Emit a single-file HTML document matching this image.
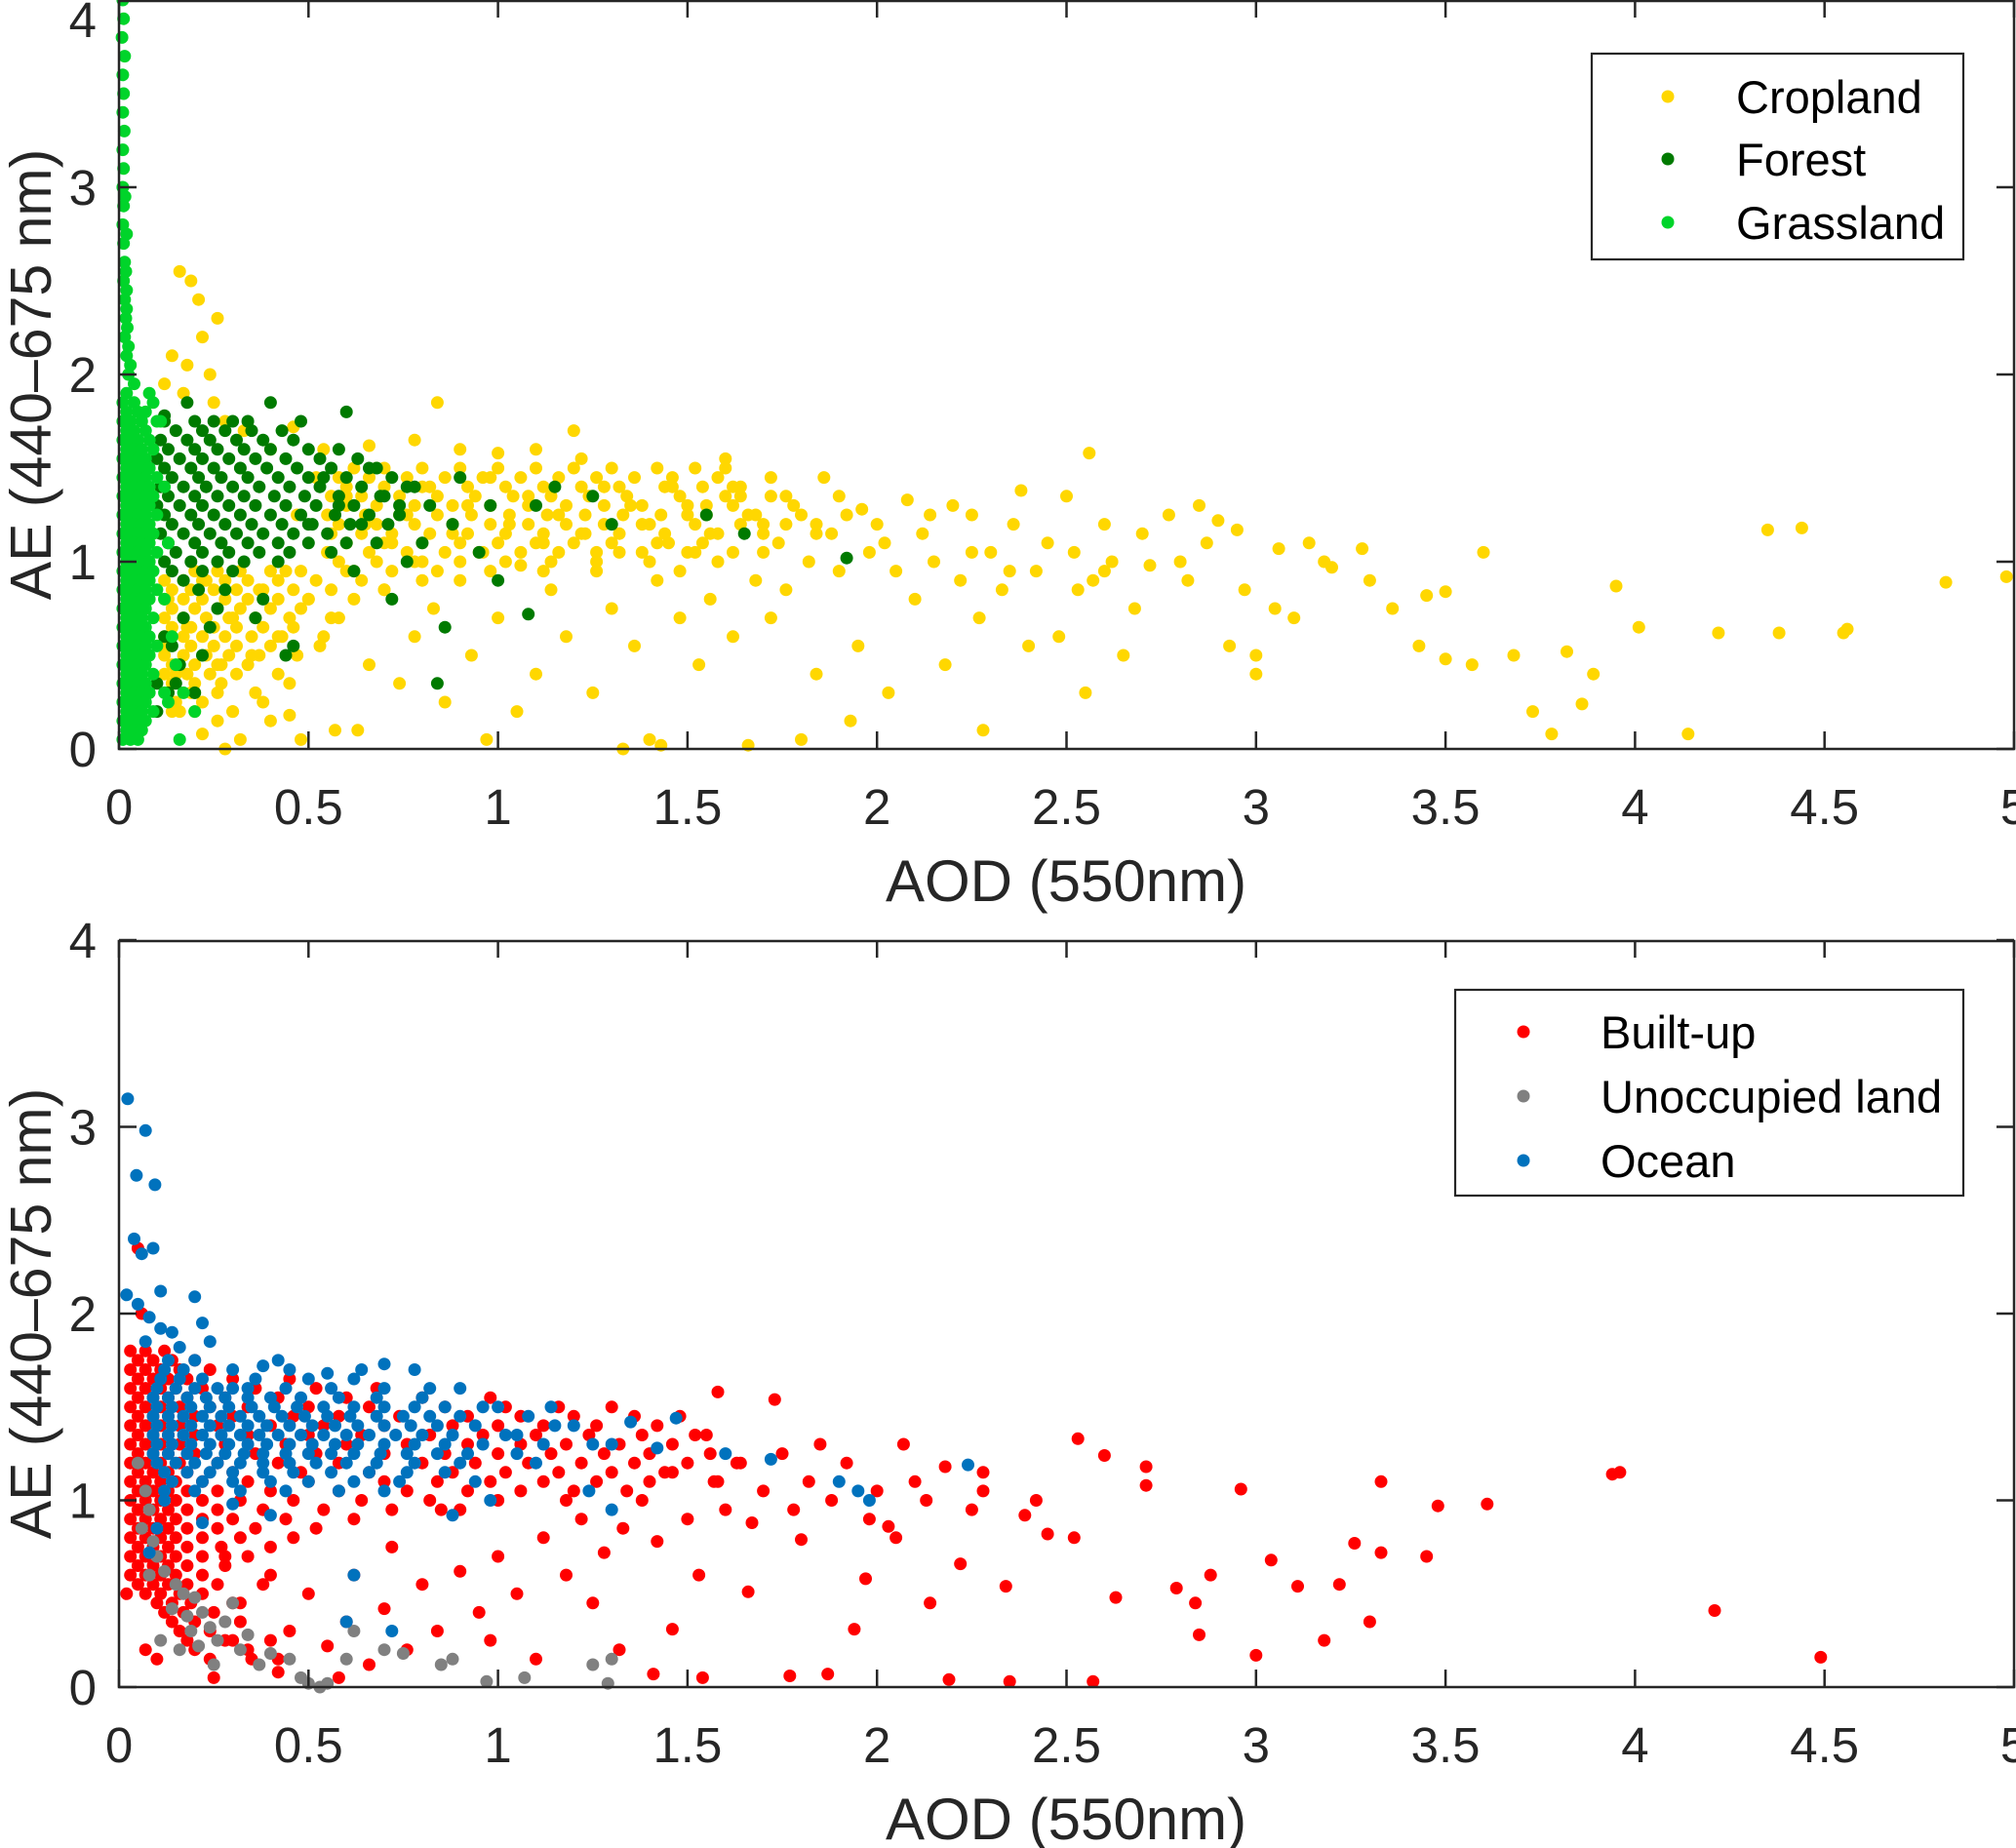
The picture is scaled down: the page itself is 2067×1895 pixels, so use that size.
<!DOCTYPE html>
<html><head><meta charset="utf-8"><style>
html,body{margin:0;padding:0;background:#fff;}
svg{display:block;font-family:"Liberation Sans",Arial,sans-serif;}
</style></head><body>
<svg id="chart" width="2067" height="1895" viewBox="0 0 2067 1895" xmlns="http://www.w3.org/2000/svg"></svg>
<script>
// ===== DATA =====
const xTicks = [0,0.5,1,1.5,2,2.5,3,3.5,4,4.5,5];
const xTickLabels = ["0","0.5","1","1.5","2","2.5","3","3.5","4","4.5","5"];
const yTicks = [0,1,2,3,4];
const yTickLabels = ["0","1","2","3","4"];
const topLegend = ["Cropland","Forest","Grassland"];
const bottomLegend = ["Built-up","Unoccupied land","Ocean"];

// dense rows: [y, x1, x2, ...]
const cropRows = [
[1.5,0.62,0.7,0.8,0.9,1.0,1.1,1.2,1.3,1.42,1.52],
[1.45,0.58,0.66,0.76,0.86,0.96,1.06,1.16,1.26,1.36,1.46,1.58],
[1.4,0.6,0.7,0.8,0.92,1.02,1.12,1.22,1.32,1.44,1.54,1.64],
[1.35,0.56,0.64,0.74,0.84,0.94,1.04,1.14,1.24,1.34,1.48,1.6,1.72],
[1.3,0.6,0.68,0.78,0.88,0.98,1.08,1.18,1.28,1.38,1.5,1.62],
[1.25,0.55,0.65,0.74,0.84,0.93,1.03,1.13,1.23,1.33,1.43,1.55,1.68,1.8],
[1.2,0.58,0.68,0.78,0.88,0.98,1.08,1.18,1.28,1.4,1.52,1.64,1.76],
[1.15,0.56,0.64,0.72,0.82,0.92,1.02,1.12,1.22,1.32,1.44,1.56,1.7,1.84],
[1.1,0.6,0.7,0.8,0.9,1.0,1.1,1.2,1.3,1.42,1.54],
[1.05,0.55,0.66,0.76,0.86,0.96,1.06,1.16,1.26,1.38,1.5,1.62],
[1.0,0.58,0.68,0.78,0.9,1.02,1.14,1.26,1.4],
[0.95,0.2,0.26,0.32,0.4,0.48,0.6,0.72,0.84,0.98,1.12],
[0.9,0.12,0.17,0.22,0.28,0.34,0.42,0.52,0.64,0.8],
[0.85,0.14,0.19,0.25,0.31,0.38,0.46,0.56,0.7],
[0.8,0.12,0.17,0.22,0.28,0.34,0.42,0.5,0.62],
[0.75,0.14,0.2,0.26,0.32,0.4,0.48],
[0.7,0.12,0.17,0.23,0.29,0.36,0.45,0.56],
[0.65,0.14,0.19,0.25,0.31,0.38,0.46],
[0.6,0.12,0.17,0.22,0.28,0.35,0.43,0.54],
[0.55,0.13,0.19,0.25,0.31,0.4],
[0.5,0.12,0.17,0.23,0.29,0.37,0.47],
[0.45,0.14,0.2,0.26,0.34],
[0.4,0.12,0.18,0.24,0.31,0.42],
[0.35,0.14,0.2,0.27],
[0.3,0.13,0.19,0.26,0.36],
[0.25,0.15,0.22],
[0.2,0.14,0.2,0.3]
];
const cropPoints = [
[4.35,1.17],[4.44,1.18],[4.82,0.89],[4.98,0.92],[4.55,0.62],[4.56,0.64],[4.38,0.62],[4.22,0.62],[4.01,0.65],[3.95,0.87],
[3.73,0.2],[3.78,0.08],[3.89,0.4],[3.82,0.52],[4.14,0.08],[3.86,0.24],[3.68,0.5],[3.6,1.05],[3.57,0.45],[3.5,0.84],
[3.5,0.48],[3.45,0.82],[3.43,0.55],[3.36,0.75],[3.28,1.07],[3.3,0.9],[3.2,0.97],[3.18,1.0],[3.14,1.1],[3.1,0.7],
[3.06,1.07],[3.05,0.75],[3.0,0.5],[3.0,0.4],[2.97,0.85],[2.95,1.17],[2.93,0.55],[2.9,1.22],[2.87,1.1],[2.85,1.3],
[2.82,0.9],[2.8,1.0],[2.77,1.25],[2.72,0.98],[2.7,1.15],[2.68,0.75],[2.65,0.5],[2.62,1.0],[2.6,1.2],[2.57,0.9],
[2.56,1.58],[2.55,0.3],[2.53,0.85],[2.5,1.35],[2.48,0.6],[2.45,1.1],[2.42,0.95],[2.4,0.55],[2.38,1.38],[2.36,1.2],
[2.33,0.85],[2.3,1.05],[2.28,0.1],[2.27,0.7],[2.25,1.25],[2.22,0.9],[2.2,1.3],[2.18,0.45],[2.15,1.0],[2.12,1.15],
[2.1,0.8],[2.08,1.33],[2.05,0.95],[2.03,0.3],[2.0,1.2],[1.98,1.05],[1.95,0.55],[1.93,0.15],[1.92,1.25],[1.9,0.95],
[1.88,1.15],[1.86,1.45],[1.84,0.4],[1.82,1.0],[1.8,0.05],[1.78,1.3],[1.76,0.85],[1.74,1.1],[1.72,0.7],[1.7,1.2],
[1.68,0.9],[1.66,0.02],[1.64,1.35],[1.62,0.6],[1.6,1.5],[1.58,1.15],[1.56,0.8],[1.55,1.3],[1.53,0.45],[1.52,1.05],
[1.5,1.25],[1.48,0.7],[1.46,1.4],[1.45,1.1],[1.43,0.02],[1.42,0.9],[1.4,0.05],[1.38,1.2],[1.36,0.55],[1.35,1.3],
[1.33,0.0],[1.32,1.05],[1.3,0.75],[1.28,1.4],[1.26,0.95],[1.25,0.3],[1.23,1.15],[1.2,1.7],[1.18,0.6],[1.16,1.25],
[1.14,0.85],[1.12,1.1],[1.1,0.4],[1.08,1.35],[1.06,0.98],[1.05,0.2],[1.03,1.2],[1.0,0.7],[0.98,1.45],[0.97,0.05],
[0.95,1.05],[0.93,0.5],[0.92,1.3],[0.9,0.9],[0.88,1.15],[0.86,0.25],[0.84,1.85],[0.83,0.75],[0.82,1.4],[0.8,1.0],
[0.78,0.6],[0.76,1.25],[0.74,0.35],[0.72,1.1],[0.7,0.85],[0.68,1.5],[0.66,0.45],[0.65,1.2],[0.63,0.1],[0.62,0.95],
[0.6,1.35],[0.58,0.7],[0.57,0.1],[0.55,1.05],[0.53,0.55],[0.52,1.45],[0.5,0.8],[0.48,0.05],[0.47,1.25],[0.45,0.35],
[0.44,0.95],[0.42,0.6],[0.4,1.6],[0.38,0.25],[0.37,0.85],[0.35,0.5],[0.33,1.7],[0.32,0.05],[0.3,0.7],[0.28,0.0],
[0.27,0.45],[0.26,2.3],[0.24,2.0],[0.23,0.9],[0.22,2.2],[0.2,0.3],[0.19,2.5],[0.18,0.65],[0.17,1.9],[0.16,2.55],
[0.15,0.4],[0.14,2.1],[0.13,0.8],[0.12,1.95],[0.21,2.4],[0.25,1.85],[0.18,2.05],[0.28,1.75],[0.11,0.55],[0.16,0.2],
[0.26,0.15],[0.3,0.2],[0.22,0.08],[0.4,0.15],[0.45,0.18],[1.9,1.35],[2.02,1.1],[1.96,1.28],[1.84,1.2],[1.76,1.35],
[1.66,1.25],[1.62,1.4],[1.7,1.05],[1.58,1.0],[1.48,0.95],[2.14,1.25],[2.25,1.05],[2.35,0.95],[2.52,1.05],[2.6,0.95],
[1.6,1.55],[1.72,1.45],[1.22,1.55],[1.1,1.6],[1.0,1.58],[0.9,1.6],[0.78,1.65],[0.66,1.62],[0.54,1.6],[0.46,1.72]
];
const forestRows = [
[1.75,0.12,0.2,0.25,0.3],
[1.7,0.15,0.22,0.28,0.35,0.43],
[1.65,0.11,0.18,0.24,0.31,0.38,0.46],
[1.6,0.13,0.2,0.26,0.33,0.4,0.5,0.58],
[1.55,0.1,0.16,0.22,0.29,0.36,0.44,0.53,0.63],
[1.5,0.12,0.19,0.25,0.32,0.39,0.47,0.56,0.68],
[1.45,0.14,0.21,0.27,0.34,0.42,0.5,0.6,0.72],
[1.4,0.11,0.17,0.23,0.3,0.37,0.45,0.53,0.64,0.76],
[1.35,0.13,0.2,0.26,0.33,0.41,0.49,0.58,0.69],
[1.3,0.1,0.16,0.22,0.29,0.36,0.44,0.52,0.62,0.74],
[1.25,0.12,0.19,0.25,0.32,0.4,0.48,0.57,0.66],
[1.2,0.14,0.21,0.28,0.35,0.43,0.51,0.61,0.71],
[1.15,0.11,0.17,0.24,0.31,0.38,0.46,0.55],
[1.1,0.13,0.2,0.27,0.34,0.42,0.5,0.6],
[1.05,0.15,0.22,0.29,0.37,0.45],
[1.0,0.12,0.19,0.26,0.33],
[0.95,0.14,0.22],
[0.9,0.17]
];
const forestPoints = [
[1.92,1.02],[1.65,1.15],[1.55,1.25],[1.3,1.2],[1.25,1.35],[1.15,1.4],[1.1,1.3],[1.08,0.72],[1.0,0.9],[0.98,1.3],
[0.95,1.05],[0.9,1.45],[0.88,1.2],[0.86,0.65],[0.84,0.35],[0.82,1.3],[0.8,1.1],[0.78,1.4],[0.76,1.0],[0.74,1.25],
[0.72,0.8],[0.7,1.35],[0.68,1.1],[0.66,1.5],[0.64,1.2],[0.6,1.8],[0.62,0.95],[0.58,1.3],[0.56,1.05],[0.54,1.45],
[0.5,1.2],[0.48,1.75],[0.46,0.55],[0.44,0.5],[0.42,1.0],[0.4,1.85],[0.38,0.8],[0.36,0.7],[0.34,1.75],[0.28,0.85],
[0.26,0.75],[0.22,0.5],[0.2,0.3],[0.18,1.85],[0.15,0.35],[0.14,0.55],[0.12,1.78],[0.1,0.2],[0.13,0.3],[0.17,0.7],
[0.21,0.85],[0.3,0.95],[0.24,0.65],[0.16,0.45],[0.12,0.6],[0.1,0.35]
];
const grassRows = [
[1.9,0.02,0.08],[1.85,0.01,0.04,0.09],[1.8,0.02,0.05,0.07],[1.75,0.01,0.03,0.06,0.1],
[1.7,0.02,0.04,0.07],[1.65,0.01,0.03,0.05,0.08],[1.6,0.02,0.04,0.06,0.09],[1.55,0.01,0.03,0.05,0.07],
[1.5,0.02,0.04,0.06,0.08],[1.45,0.01,0.03,0.05,0.07,0.1],[1.4,0.02,0.04,0.06,0.08],[1.35,0.01,0.03,0.05,0.07,0.09],
[1.3,0.02,0.04,0.06,0.08],[1.25,0.01,0.03,0.05,0.07,0.1],[1.2,0.02,0.04,0.06,0.08],[1.15,0.01,0.03,0.05,0.07,0.09],
[1.1,0.02,0.04,0.06,0.08],[1.05,0.01,0.03,0.05,0.07,0.1],[1.0,0.02,0.04,0.06,0.08],[0.95,0.01,0.03,0.05,0.07,0.09],
[0.9,0.02,0.04,0.06,0.08],[0.85,0.01,0.03,0.05,0.07,0.1],[0.8,0.02,0.04,0.06,0.08],[0.75,0.01,0.03,0.05,0.07],
[0.7,0.02,0.04,0.06,0.09],[0.65,0.01,0.03,0.05,0.07],[0.6,0.02,0.04,0.06,0.08],[0.55,0.01,0.03,0.05,0.07,0.1],
[0.5,0.02,0.04,0.06,0.08],[0.45,0.01,0.03,0.05,0.07],[0.4,0.02,0.04,0.06,0.09],[0.35,0.01,0.03,0.05,0.07],
[0.3,0.02,0.04,0.06,0.08,0.12],[0.25,0.01,0.03,0.05,0.07],[0.2,0.02,0.04,0.06,0.09],[0.15,0.01,0.03,0.05,0.07],
[0.1,0.02,0.04,0.06],[0.05,0.01,0.03,0.05]
];
const grassPoints = [
[0.01,4.0],[0.012,3.9],[0.008,3.8],[0.015,3.7],[0.01,3.6],[0.012,3.5],[0.01,3.4],[0.014,3.3],[0.01,3.2],[0.012,3.1],
[0.01,3.0],[0.016,2.95],[0.012,2.9],[0.01,2.8],[0.02,2.75],[0.012,2.7],[0.015,2.6],[0.018,2.55],[0.012,2.5],[0.02,2.45],
[0.015,2.4],[0.02,2.35],[0.018,2.3],[0.022,2.25],[0.015,2.2],[0.025,2.15],[0.02,2.1],[0.03,2.05],[0.025,2.0],[0.04,1.95],
[0.11,1.75],[0.12,1.4],[0.13,1.1],[0.12,0.8],[0.14,0.6],[0.15,0.45],[0.13,0.25],[0.17,0.3],[0.2,0.2],[0.16,0.05]
];
const builtRows = [
[1.8,0.03,0.07,0.12],[1.75,0.05,0.09,0.14,0.2],[1.7,0.03,0.07,0.11,0.16,0.24],[1.65,0.05,0.09,0.13,0.18,0.3,0.45],
[1.6,0.03,0.07,0.11,0.15,0.22,0.36,0.52,0.68],[1.55,0.05,0.09,0.13,0.18,0.28,0.42,0.6,0.8,0.98],
[1.5,0.03,0.07,0.11,0.16,0.24,0.34,0.5,0.66,0.86,1.02,1.16,1.3],
[1.45,0.05,0.09,0.13,0.2,0.3,0.46,0.58,0.74,0.92,1.06,1.2,1.36,1.48],
[1.4,0.03,0.07,0.11,0.16,0.26,0.4,0.54,0.7,0.88,1.0,1.12,1.26,1.42],
[1.35,0.05,0.09,0.13,0.2,0.34,0.5,0.64,0.82,0.96,1.1,1.24,1.38,1.52],
[1.3,0.03,0.07,0.11,0.16,0.28,0.44,0.6,0.76,0.92,1.06,1.18,1.32,1.46],
[1.25,0.05,0.09,0.13,0.2,0.36,0.52,0.7,0.86,1.0,1.14,1.28,1.4,1.56],
[1.2,0.03,0.07,0.11,0.16,0.26,0.42,0.58,0.8,0.94,1.08,1.22,1.36,1.5,1.64],
[1.15,0.05,0.09,0.13,0.18,0.3,0.48,0.66,0.88,1.02,1.16,1.3,1.44],
[1.1,0.03,0.07,0.11,0.15,0.22,0.34,0.5,0.7,0.84,0.98,1.12,1.26,1.4,1.58],
[1.05,0.05,0.09,0.13,0.18,0.26,0.4,0.58,0.76,0.92,1.06,1.2,1.34],
[1.0,0.03,0.07,0.11,0.15,0.22,0.32,0.46,0.64,0.82,1.0,1.18],
[0.95,0.05,0.09,0.13,0.18,0.26,0.38,0.54,0.72,0.9],
[0.9,0.03,0.07,0.11,0.15,0.22,0.3,0.44,0.62],
[0.85,0.05,0.09,0.13,0.18,0.26,0.36,0.52],
[0.8,0.03,0.07,0.11,0.15,0.22,0.32,0.46],
[0.75,0.05,0.09,0.13,0.18,0.27,0.4],
[0.7,0.03,0.07,0.11,0.15,0.22,0.34],
[0.65,0.05,0.09,0.13,0.18,0.28],
[0.6,0.03,0.07,0.11,0.15,0.22],
[0.55,0.05,0.09,0.13,0.18,0.26,0.38],
[0.5,0.02,0.07,0.11,0.16,0.22],
[0.45,0.1,0.14,0.19,0.3],[0.4,0.12,0.17,0.25],[0.35,0.14,0.2,0.32],[0.3,0.16,0.24],[0.25,0.18,0.28,0.4],[0.2,0.07,0.2,0.34],[0.15,0.1,0.24,0.42]
];
const builtPoints = [
[4.49,0.16],[4.21,0.41],[3.94,1.14],[3.96,1.15],[3.61,0.98],[3.48,0.97],[3.45,0.7],[3.33,1.1],[3.33,0.72],[3.3,0.35],
[3.26,0.77],[3.22,0.55],[3.18,0.25],[3.11,0.54],[3.04,0.68],[3.0,0.17],[2.96,1.06],[2.88,0.6],[2.84,0.45],[2.85,0.28],
[2.79,0.53],[2.71,1.18],[2.71,1.08],[2.63,0.48],[2.6,1.24],[2.57,0.03],[2.53,1.33],[2.52,0.8],[2.45,0.82],[2.42,1.0],
[2.39,0.92],[2.35,0.03],[2.34,0.54],[2.28,1.15],[2.22,0.66],[2.19,0.04],[2.14,0.45],[2.13,1.0],[2.07,1.3],[2.03,0.86],
[1.97,0.58],[1.94,0.31],[1.87,0.07],[1.8,0.79],[1.77,0.06],[1.73,1.54],[1.66,0.51],[1.58,1.58],[1.54,0.05],[1.53,0.6],
[1.46,0.31],[1.41,0.07],[2.28,1.05],[2.25,0.95],[2.18,1.18],[2.1,1.1],[2.05,0.8],[2.0,1.05],[1.98,0.9],[1.92,1.2],
[1.88,1.0],[1.85,1.3],[1.82,1.1],[1.78,0.95],[1.75,1.25],[1.7,1.05],[1.67,0.88],[1.63,1.2],[1.6,0.95],[1.57,1.1],
[1.55,1.35],[1.5,0.9],[1.46,1.15],[1.42,0.78],[1.38,1.0],[1.33,0.85],[1.28,0.72],[1.22,0.9],[1.18,0.6],[1.12,0.8],
[1.05,0.5],[1.0,0.7],[0.95,0.4],[0.9,0.62],[0.84,0.3],[0.8,0.55],[0.76,0.2],[0.7,0.42],[0.66,0.12],[0.6,0.35],
[0.55,0.22],[0.5,0.5],[0.45,0.3],[0.4,0.6],[0.35,0.15],[0.32,0.45],[0.28,0.7],[0.25,0.05],[0.62,0.6],[0.72,0.75],
[0.85,0.95],[1.25,0.45],[1.32,0.2],[1.1,0.15],[0.98,0.25],[0.42,0.08],[0.3,0.25],[0.58,0.05],[0.05,2.35],[0.06,2.0]
];
const oceanRows = [
[1.75,0.13,0.2,0.42],[1.7,0.12,0.17,0.3,0.45,0.64,0.78],[1.65,0.11,0.16,0.22,0.36,0.5,0.62],
[1.6,0.1,0.15,0.2,0.26,0.34,0.44,0.56,0.7,0.9],
[1.55,0.09,0.13,0.18,0.23,0.28,0.34,0.4,0.48,0.58,0.68,0.8],
[1.5,0.1,0.14,0.19,0.24,0.29,0.35,0.41,0.47,0.54,0.62,0.7,0.78,0.86,1.0,1.14],
[1.45,0.09,0.13,0.17,0.22,0.27,0.32,0.37,0.43,0.49,0.55,0.61,0.68,0.75,0.82,0.9,1.08],
[1.4,0.1,0.14,0.19,0.24,0.29,0.34,0.39,0.45,0.51,0.57,0.63,0.7,0.77,0.84,0.94,1.2],
[1.35,0.09,0.13,0.17,0.22,0.27,0.32,0.37,0.42,0.48,0.54,0.6,0.66,0.73,0.8,0.88,1.02],
[1.3,0.1,0.14,0.19,0.24,0.29,0.34,0.39,0.45,0.51,0.57,0.63,0.7,0.78,0.86,0.96,1.12,1.3],
[1.25,0.09,0.13,0.18,0.23,0.28,0.33,0.38,0.44,0.5,0.56,0.62,0.69,0.76,0.84,0.92,1.05],
[1.2,0.1,0.15,0.2,0.26,0.32,0.38,0.45,0.52,0.6,0.68,0.78,0.9],
[1.15,0.12,0.18,0.24,0.3,0.38,0.46,0.56,0.66,0.76,0.86],
[1.1,0.14,0.22,0.3,0.4,0.5,0.62,0.74,0.94],
[1.05,0.12,0.2,0.32,0.44,0.58,0.7]
];
const oceanPoints = [
[0.023,3.15],[0.07,2.98],[0.046,2.74],[0.095,2.69],[0.04,2.4],[0.09,2.35],[0.06,2.32],[0.02,2.1],[0.11,2.12],[0.2,2.09],
[0.05,2.05],[0.08,1.98],[0.11,1.92],[0.14,1.9],[0.22,1.95],[0.24,1.85],[0.07,1.85],[0.16,1.82],[0.3,1.6],[0.38,1.72],
[0.55,1.68],[0.7,1.73],[0.82,1.6],[0.96,1.5],[1.05,1.35],[1.15,1.4],[1.25,1.3],[1.35,1.42],[1.42,1.28],[1.47,1.44],
[1.6,1.25],[1.72,1.22],[1.9,1.1],[1.98,1.0],[2.24,1.19],[1.95,1.05],[1.3,0.95],[1.24,1.05],[0.98,1.0],[0.62,0.6],
[0.4,0.92],[0.72,0.3],[0.6,0.35],[0.1,0.85],[0.08,0.72],[0.12,1.0],[0.22,0.88],[0.3,0.98],[1.1,1.2],[0.88,0.92]
];
const unoccPoints = [
[0.07,1.05],[0.08,0.95],[0.06,0.85],[0.09,0.78],[0.1,0.7],[0.08,0.6],[0.12,0.62],[0.15,0.55],[0.17,0.5],[0.2,0.48],
[0.14,0.42],[0.18,0.38],[0.22,0.4],[0.19,0.3],[0.24,0.32],[0.21,0.22],[0.26,0.25],[0.28,0.35],[0.3,0.45],[0.32,0.2],
[0.34,0.28],[0.37,0.12],[0.4,0.18],[0.45,0.15],[0.48,0.05],[0.5,0.02],[0.53,0.0],[0.55,0.02],[0.6,0.15],[0.62,0.3],
[0.7,0.2],[0.75,0.18],[0.85,0.12],[0.88,0.15],[0.97,0.03],[1.07,0.05],[1.25,0.12],[1.3,0.15],[1.29,0.02],[0.16,0.2],
[0.11,0.25],[0.25,0.12],[0.05,1.2]
];

// ===== RENDER =====
const NS = "http://www.w3.org/2000/svg";
const svg = document.getElementById("chart");
function mk(tag, attrs, parent){const e=document.createElementNS(NS,tag);for(const k in attrs)e.setAttribute(k,attrs[k]);(parent||svg).appendChild(e);return e;}
const L=122, R=2065, XMAX=5, YMAX=4, DOT=6.5;
function xs(v){return L+(R-L)*v/XMAX;}
const panels=[{top:0,bottom:768},{top:964,bottom:1730}];
function ysFor(p){return v=>p.bottom-(p.bottom-p.top)*v/YMAX;}
function expandRows(rows){const out=[];rows.forEach(r=>{for(let i=1;i<r.length;i++)out.push([r[i],r[0]]);});return out;}

function drawSeries(p, pts, color, name){
  const ys=ysFor(p);
  const g=mk("g",{});
  
  
  pts.forEach(d=>{
    const c=mk("circle",{cx:xs(d[0]).toFixed(1),cy:ys(d[1]).toFixed(1),r:DOT,fill:color},g);
    
    
  });
}
function drawAxes(p, idx){
  const ys=ysFor(p);
  const g=mk("g",{});
  
  
  mk("rect",{x:L,y:p.top+1,width:R-L,height:p.bottom-p.top-1,fill:"none",stroke:"#262626","stroke-width":2.5},g);
  xTicks.forEach((t,i)=>{
    const x=xs(t);
    mk("line",{x1:x,y1:p.bottom,x2:x,y2:p.bottom-18,stroke:"#262626","stroke-width":2.5},g);
    mk("line",{x1:x,y1:p.top,x2:x,y2:p.top+18,stroke:"#262626","stroke-width":2.5},g);
    const tx=mk("text",{x:x,y:p.bottom+77,"text-anchor":"middle","font-size":51,fill:"#262626"},g);
    tx.textContent=xTickLabels[i];
    
    
  });
  yTicks.forEach((t,i)=>{
    const y=ys(t);
    mk("line",{x1:L,y1:y,x2:L+18,y2:y,stroke:"#262626","stroke-width":2.5},g);
    mk("line",{x1:R,y1:y,x2:R-18,y2:y,stroke:"#262626","stroke-width":2.5},g);
    const ty=mk("text",{x:99,y:Math.max(y+18,38),"text-anchor":"end","font-size":51,fill:"#262626"},g);
    ty.textContent=yTickLabels[i];
    
    
  });
  const xt=mk("text",{x:1093,y:p.bottom+156,"text-anchor":"middle","font-size":60,fill:"#262626"},g);
  xt.textContent="AOD (550nm)";
  
  
  const cy=(p.top+p.bottom)/2;
  const yt=mk("text",{x:0,y:0,"text-anchor":"middle","font-size":59,fill:"#262626",transform:`translate(52,${cy}) rotate(-90)`},g);
  yt.textContent="AE (440\u2013675 nm)";
  
  
}
function drawLegend(box, labels, colors, mx, tx, rows, name){
  const g=mk("g",{});
  
  
  mk("rect",{x:box[0],y:box[1],width:box[2],height:box[3],fill:"#fff",stroke:"#262626","stroke-width":2.2},g);
  labels.forEach((lab,i)=>{
    const e=mk("g",{},g);
    
    
    mk("circle",{cx:mx,cy:rows[i],r:DOT,fill:colors[i]},e);
    const t=mk("text",{x:tx,y:rows[i]+17,"font-size":47,fill:"#000"},e);
    t.textContent=lab;
  });
}

const C_CROP="#ffd700",C_FOREST="#007a00",C_GRASS="#00d42a",C_BUILT="#ff0000",C_UN="#808080",C_OCEAN="#0072bd";
drawSeries(panels[0], expandRows(cropRows).concat(cropPoints), C_CROP, "cropland-series");
drawSeries(panels[0], expandRows(forestRows).concat(forestPoints), C_FOREST, "forest-series");
drawSeries(panels[0], expandRows(grassRows).concat(grassPoints), C_GRASS, "grassland-series");
drawSeries(panels[1], expandRows(builtRows).concat(builtPoints), C_BUILT, "built-up-series");
drawSeries(panels[1], unoccPoints, C_UN, "unoccupied-land-series");
drawSeries(panels[1], expandRows(oceanRows).concat(oceanPoints), C_OCEAN, "ocean-series");
drawAxes(panels[0],0);
drawAxes(panels[1],1);
drawLegend([1632,55,381,211], topLegend, [C_CROP,C_FOREST,C_GRASS], 1710, 1780, [99,163,228], "top-legend");
drawLegend([1492,1015,521,211], bottomLegend, [C_BUILT,C_UN,C_OCEAN], 1562, 1641, [1058,1124,1190], "bottom-legend");
</script>
</body></html>
